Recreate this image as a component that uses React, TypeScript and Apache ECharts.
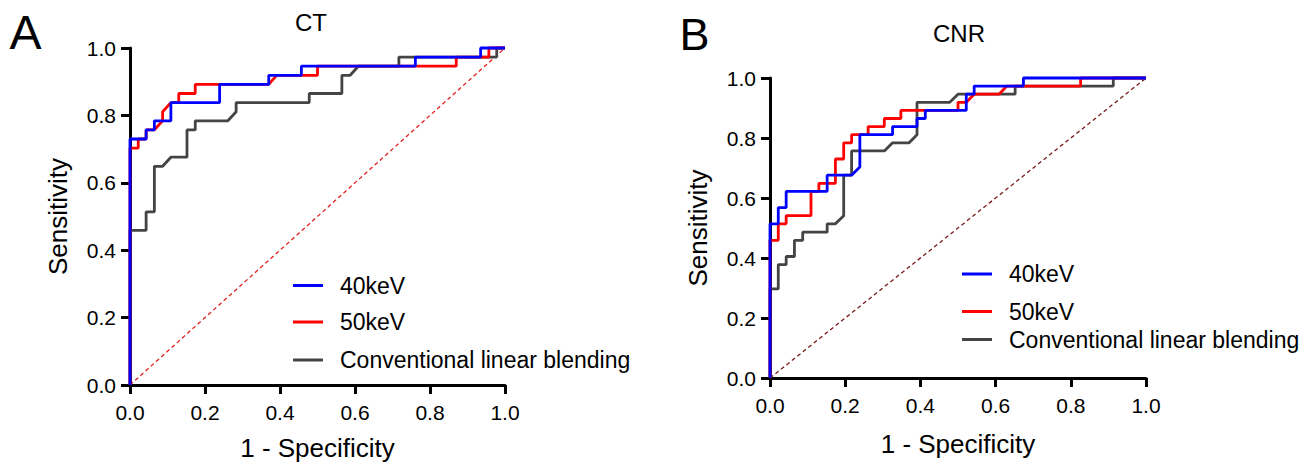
import React, { useEffect, useRef } from "react";
import * as echarts from "echarts";

const FONT = "'Liberation Sans', Arial, Helvetica, sans-serif";

const seriesNames = ["40keV", "50keV", "Conventional linear blending"];
const seriesColors = ["#0000FF", "#FF0000", "#444444"];
const panelTitles = ["CT", "CNR"];
const panelLetters = ["A", "B"];

// Panel A (CT) ROC points [1 - specificity, sensitivity]
const ctKev40 = [
  [0, 0], [0, 0.730], [0.043, 0.730], [0.043, 0.757], [0.065, 0.757], [0.065, 0.784],
  [0.109, 0.784], [0.109, 0.838], [0.239, 0.838], [0.239, 0.892], [0.370, 0.892],
  [0.370, 0.919], [0.457, 0.919], [0.457, 0.946], [0.761, 0.946], [0.761, 0.973],
  [0.935, 0.973], [0.935, 1.0], [1, 1],
];
const ctKev50 = [
  [0, 0], [0, 0.703], [0.022, 0.703], [0.022, 0.730], [0.043, 0.730], [0.043, 0.757],
  [0.065, 0.757], [0.087, 0.784], [0.087, 0.811], [0.109, 0.838], [0.130, 0.838],
  [0.130, 0.865], [0.174, 0.865], [0.174, 0.892], [0.370, 0.892], [0.391, 0.919],
  [0.500, 0.919], [0.500, 0.946], [0.870, 0.946], [0.870, 0.973], [0.957, 0.973],
  [0.957, 1.0], [1, 1],
];
const ctConventional = [
  [0, 0], [0, 0.459], [0.043, 0.459], [0.043, 0.514], [0.065, 0.514], [0.065, 0.649],
  [0.087, 0.649], [0.109, 0.676], [0.152, 0.676], [0.152, 0.757], [0.174, 0.757],
  [0.174, 0.784], [0.261, 0.784], [0.283, 0.811], [0.283, 0.838], [0.478, 0.838],
  [0.478, 0.865], [0.565, 0.865], [0.565, 0.919], [0.587, 0.919], [0.609, 0.946],
  [0.717, 0.946], [0.717, 0.973], [0.978, 0.973], [0.978, 1.0], [1, 1],
];

// Panel B (CNR)
const cnrKev40 = [
  [0, 0], [0, 0.514], [0.022, 0.514], [0.022, 0.568], [0.043, 0.568], [0.043, 0.622],
  [0.152, 0.622], [0.152, 0.676], [0.217, 0.676], [0.239, 0.703], [0.239, 0.811],
  [0.326, 0.811], [0.326, 0.838], [0.391, 0.838], [0.391, 0.865], [0.413, 0.865],
  [0.413, 0.892], [0.522, 0.892], [0.522, 0.946], [0.543, 0.946], [0.543, 0.973],
  [0.674, 0.973], [0.674, 1.0], [1, 1],
];
const cnrKev50 = [
  [0, 0], [0, 0.459], [0.022, 0.459], [0.022, 0.514], [0.043, 0.514], [0.043, 0.541],
  [0.109, 0.541], [0.109, 0.622], [0.130, 0.622], [0.130, 0.649], [0.174, 0.649],
  [0.174, 0.730], [0.196, 0.730], [0.196, 0.784], [0.217, 0.784], [0.217, 0.811],
  [0.261, 0.811], [0.261, 0.838], [0.304, 0.838], [0.304, 0.865], [0.348, 0.865],
  [0.348, 0.892], [0.500, 0.892], [0.500, 0.919], [0.522, 0.919], [0.543, 0.946],
  [0.609, 0.946], [0.630, 0.973], [0.826, 0.973], [0.826, 1.0], [1, 1],
];
const cnrConventional = [
  [0, 0], [0, 0.297], [0.022, 0.297], [0.022, 0.378], [0.043, 0.378], [0.043, 0.405],
  [0.065, 0.405], [0.065, 0.459], [0.087, 0.459], [0.087, 0.486], [0.152, 0.486],
  [0.152, 0.514], [0.174, 0.514], [0.196, 0.541], [0.196, 0.676], [0.217, 0.676],
  [0.217, 0.757], [0.304, 0.757], [0.326, 0.784], [0.370, 0.784], [0.391, 0.811],
  [0.391, 0.919], [0.478, 0.919], [0.500, 0.946], [0.652, 0.946], [0.652, 0.973],
  [0.913, 0.973], [0.913, 1.0], [1, 1],
];

const referenceLine = [[0, 0], [1, 1]];

const panels = [
  {
    curves: [ctKev40, ctKev50, ctConventional],
    grid: { left: 130, top: 48, width: 375, height: 341 },
    diagColor: "#E02020",
    xNameGap: 50,
    legendX: 293,
    legendY: [285.5, 322, 360],
    titlePos: [311, 22.5],
    letterPos: [25.5, 32.5],
    letterSize: 48,
  },
  {
    curves: [cnrKev40, cnrKev50, cnrConventional],
    grid: { left: 770, top: 78, width: 376, height: 300 },
    diagColor: "#7A1A1A",
    xNameGap: 53,
    legendX: 962,
    legendY: [274, 311.5, 339.5],
    titlePos: [959, 33],
    letterPos: [694.5, 34],
    letterSize: 45,
  },
];

function buildOption() {
  const grid: any[] = [];
  const xAxis: any[] = [];
  const yAxis: any[] = [];
  const series: any[] = [];
  const legend: any[] = [];
  const graphic: any[] = [];

  panels.forEach((p, pi) => {
    grid.push({ ...p.grid, containLabel: false });
    const axisCommon = {
      gridIndex: pi,
      type: "value",
      min: 0,
      max: 1,
      interval: 0.2,
      axisLine: { show: true, onZero: false, lineStyle: { color: "#000", width: 3 } },
      axisTick: { show: true, length: 9, lineStyle: { color: "#000", width: 3 } },
      splitLine: { show: false },
      nameLocation: "middle",
      nameTextStyle: { fontSize: 26, color: "#000", fontFamily: FONT },
    };
    xAxis.push({
      ...axisCommon,
      name: "1 - Specificity",
      nameGap: p.xNameGap,
      axisLabel: {
        fontSize: 21,
        color: "#000",
        fontFamily: FONT,
        margin: 17,
        formatter: (v: number) => v.toFixed(1),
      },
    });
    yAxis.push({
      ...axisCommon,
      name: "Sensitivity",
      nameGap: 59,
      axisLabel: {
        fontSize: 21,
        color: "#000",
        fontFamily: FONT,
        margin: 14,
        formatter: (v: number) => v.toFixed(1),
      },
    });

    series.push({
      type: "line",
      name: `${panelLetters[pi]}|ref`,
      xAxisIndex: pi,
      yAxisIndex: pi,
      data: referenceLine,
      symbol: "none",
      clip: false,
      silent: true,
      z: 1,
      lineStyle: { color: p.diagColor, width: 1.3, type: [4, 3] },
    });

    // draw grey first, then red, then blue on top
    [2, 1, 0].forEach((si) => {
      series.push({
        type: "line",
        name: `${panelLetters[pi]}|${seriesNames[si]}`,
        xAxisIndex: pi,
        yAxisIndex: pi,
        data: p.curves[si],
        symbol: "none",
        clip: false,
        z: 3 + (2 - si),
        lineStyle: { color: seriesColors[si], width: 2.8 },
        itemStyle: { color: seriesColors[si] },
      });
    });

    seriesNames.forEach((n, si) => {
      legend.push({
        data: [`${panelLetters[pi]}|${n}`],
        left: p.legendX,
        top: p.legendY[si] - 11.5,
        padding: 0,
        orient: "vertical",
        icon: "rect",
        itemWidth: 30,
        itemHeight: 3,
        selectedMode: false,
        formatter: (name: string) => name.split("|")[1],
        textStyle: {
          fontSize: 23,
          color: "#000",
          fontFamily: FONT,
          padding: [0, 0, 0, 12],
        },
      });
    });

    graphic.push({
      type: "text",
      x: p.titlePos[0],
      y: p.titlePos[1],
      style: {
        text: panelTitles[pi],
        fontSize: 24,
        fontFamily: FONT,
        fill: "#000",
        textAlign: "center",
        textVerticalAlign: "middle",
      },
    });
    graphic.push({
      type: "text",
      x: p.letterPos[0],
      y: p.letterPos[1],
      style: {
        text: panelLetters[pi],
        fontSize: p.letterSize,
        fontFamily: FONT,
        fill: "#000",
        textAlign: "center",
        textVerticalAlign: "middle",
      },
    });
  });

  return {
    animation: false,
    backgroundColor: "#fff",
    textStyle: { fontFamily: FONT },
    grid,
    xAxis,
    yAxis,
    series,
    legend,
    graphic,
  };
}

export default function App() {
  const ref = useRef<HTMLDivElement>(null);
  useEffect(() => {
    if (!ref.current) return;
    const chart = echarts.init(ref.current, undefined, { renderer: "svg" });
    chart.setOption(buildOption() as any);
    return () => chart.dispose();
  }, []);
  return (
    <div
      ref={ref}
      style={{ position: "fixed", left: 0, top: 0, width: 1306, height: 466, background: "#fff" }}
    />
  );
}
